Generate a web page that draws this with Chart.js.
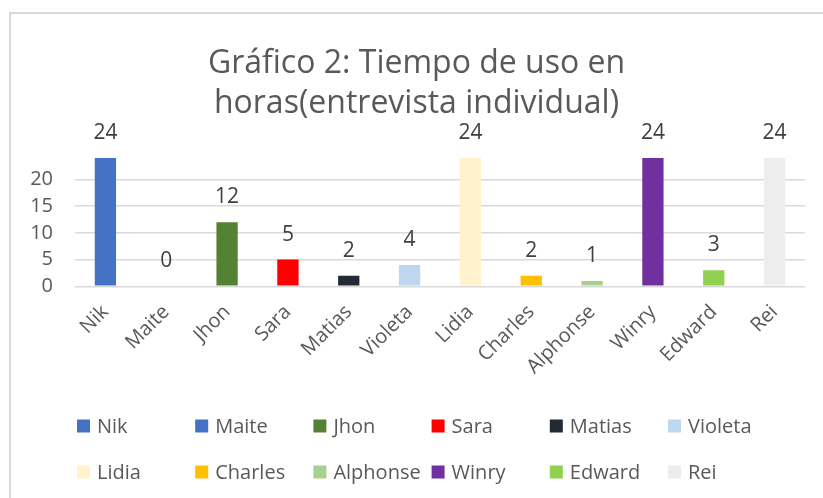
<!DOCTYPE html>
<html>
<head>
<meta charset="utf-8">
<script src="https://cdn.jsdelivr.net/npm/chart.js@4.4.1/dist/chart.umd.min.js"></script>
<style>
  html, body { margin: 0; padding: 0; background: #fff; overflow: hidden; }
  .frame {
    position: absolute; left: 9px; top: 12px; width: 900px; height: 600px;
    border: 2px solid #d9d9d9; box-sizing: border-box;
  }
  .wrap { position: absolute; left: 0; top: 0; width: 823px; height: 498px; }
</style>
</head>
<body>
<div class="frame"></div>
<div class="wrap"><canvas id="chart" width="823" height="498"></canvas></div>
<script>
  // Horas de uso por persona (entrevista individual)
  const CATEGORIES = ['Nik', 'Maite', 'Jhon', 'Sara', 'Matias', 'Violeta',
    'Lidia', 'Charles', 'Alphonse', 'Winry', 'Edward', 'Rei'];
  const HOURS = [24, 0, 12, 5, 2, 4, 24, 2, 1, 24, 3, 24];
  const BAR_COLORS = ['#4472c4', '#4472c4', '#548235', '#ff0000', '#222a35', '#bdd7ee',
    '#fff2cc', '#ffc000', '#a9d18e', '#7030a0', '#92d050', '#ededed'];
  const Y_TICKS = [0, 5, 10, 15, 20];

  const FONT = "'Open Sans', 'DejaVu Sans', sans-serif";
  const TEXT = '#595959';

  // value labels above each bar
  const valueLabels = {
    id: 'valueLabels',
    afterDatasetsDraw(chart) {
      const ctx = chart.ctx;
      const meta = chart.getDatasetMeta(0);
      ctx.save();
      ctx.font = `21px ${FONT}`;
      ctx.fillStyle = '#404040';
      ctx.textAlign = 'center';
      ctx.textBaseline = 'middle';
      meta.data.forEach((bar, i) => {
        ctx.fillText(String(HOURS[i]), bar.x, bar.y - 25);
      });
      ctx.restore();
    },
  };

  // legend laid out in a 6-column grid like the original
  const gridLegend = {
    id: 'gridLegend',
    afterDraw(chart) {
      const ctx = chart.ctx;
      const cols = 6, colW = 118.2, left = 77, rowY = [426, 472];
      ctx.save();
      ctx.font = `20px ${FONT}`;
      ctx.textBaseline = 'middle';
      ctx.textAlign = 'left';
      CATEGORIES.forEach((name, i) => {
        const x = left + (i % cols) * colW;
        const y = rowY[Math.floor(i / cols)];
        ctx.fillStyle = BAR_COLORS[i];
        ctx.fillRect(x, y - 6.5, 13, 13);
        ctx.fillStyle = TEXT;
        ctx.fillText(name, x + 20, y + 1);
      });
      ctx.restore();
    },
  };

  new Chart(document.getElementById('chart'), {
    type: 'bar',
    data: {
      labels: CATEGORIES,
      datasets: [{
        label: 'Horas',
        data: HOURS,
        backgroundColor: BAR_COLORS,
        categoryPercentage: 1,
        barPercentage: 0.35,
      }],
    },
    options: {
      responsive: false,
      animation: false,
      layout: { padding: { left: 28, right: 18, top: 0, bottom: 113 } },
      plugins: {
        legend: { display: false },
        tooltip: { enabled: false },
        title: {
          display: true,
          text: ['Gráfico 2: Tiempo de uso en', 'horas(entrevista individual)'],
          color: TEXT,
          font: { family: FONT, size: 32, weight: 'normal', lineHeight: 1.25 },
          padding: { top: 44, bottom: 34 },
        },
      },
      scales: {
        x: {
          grid: { display: false },
          border: { display: false },
          ticks: {
            color: TEXT,
            font: { family: FONT, size: 20 },
            minRotation: 45,
            maxRotation: 45,
            padding: 6,
          },
        },
        y: {
          min: 0,
          max: 24,
          afterBuildTicks: axis => { axis.ticks = Y_TICKS.map(v => ({ value: v })); },
          // keep the axis narrow: labels sit 22px left of the plot
          afterFit: axis => { axis.width = 47; },
          grid: { color: '#d9d9d9', lineWidth: 1.5, drawTicks: false },
          border: { display: false },
          ticks: {
            color: TEXT,
            font: { family: FONT, size: 20 },
            padding: 22,
          },
        },
      },
    },
    plugins: [valueLabels, gridLegend],
  });
</script>
</body>
</html>
